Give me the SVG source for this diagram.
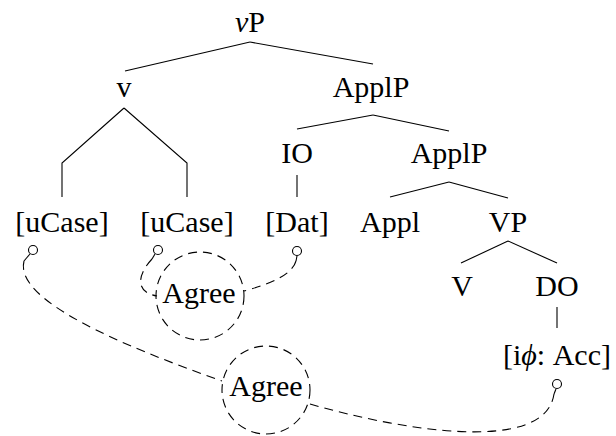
<svg xmlns="http://www.w3.org/2000/svg" width="616" height="436" viewBox="0 0 616 436">
<style>
.t{font-family:"Liberation Serif","Times New Roman",serif;font-size:30px;fill:#000;text-anchor:middle}
.e{stroke:#000;stroke-width:1.1;fill:none}
.d{stroke:#000;stroke-width:1.1;fill:none;stroke-dasharray:9 6}
.c{stroke:#000;stroke-width:1.1;fill:#fff}
</style>
<rect width="616" height="436" fill="#fff"/>
<g id="connectors">
<line class="e" x1="250" y1="42" x2="125" y2="71"/>
<line class="e" x1="250" y1="42" x2="373" y2="64"/>
<polyline class="e" points="124,108 62,163 62,197"/>
<polyline class="e" points="124,108 187,163 187,197"/>
<line class="e" x1="373" y1="115" x2="297" y2="129"/>
<line class="e" x1="373" y1="115" x2="449" y2="131"/>
<line class="e" x1="297" y1="175" x2="297" y2="197"/>
<line class="e" x1="449" y1="182" x2="390" y2="197"/>
<line class="e" x1="449" y1="182" x2="508" y2="198"/>
<line class="e" x1="508" y1="241" x2="461" y2="263"/>
<line class="e" x1="508" y1="241" x2="557" y2="263"/>
<line class="e" x1="557" y1="307" x2="557" y2="328"/>
<path class="d" d="M24,261 C14,300 120,345 222,381"/>
<path class="d" d="M152,259 C138,274 134,292 157,296"/>
<path class="d" d="M296,261 C292,275 270,284 244,291"/>
<path class="d" d="M310,404 C400,430 545,455 554,394"/>
<line class="e" x1="30" y1="254" x2="24" y2="261"/>
<line class="e" x1="155" y1="254" x2="152" y2="259"/>
<line class="e" x1="297" y1="256" x2="296" y2="261"/>
<line class="e" x1="556" y1="389" x2="554" y2="394"/>
<circle class="c" cx="33" cy="250" r="4.5"/>
<circle class="c" cx="158" cy="250" r="4.5"/>
<circle class="c" cx="297" cy="251" r="4.5"/>
<circle class="c" cx="557" cy="384" r="4.5"/>
</g>
<g id="vP"><text class="t" x="250" y="32"><tspan font-style="italic">v</tspan>P</text></g>
<g id="v"><text class="t" x="124" y="97">v</text></g>
<g id="ApplP1"><text class="t" x="371" y="97">ApplP</text></g>
<g id="IO"><text class="t" x="297" y="163">IO</text></g>
<g id="ApplP2"><text class="t" x="449" y="163">ApplP</text></g>
<g id="uCase1"><text class="t" x="62" y="232">[uCase]</text></g>
<g id="uCase2"><text class="t" x="187" y="232">[uCase]</text></g>
<g id="Dat"><text class="t" x="297" y="232">[Dat]</text></g>
<g id="Appl"><text class="t" x="390" y="232">Appl</text></g>
<g id="VP"><text class="t" x="508" y="232">VP</text></g>
<g id="V"><text class="t" x="462" y="296">V</text></g>
<g id="DO"><text class="t" x="557" y="296">DO</text></g>
<g id="Acc"><text class="t" x="557" y="365">[i<tspan font-style="italic" font-family="Liberation Serif, DejaVu Serif, serif">ϕ</tspan>: Acc]</text></g>
<g id="Agree1"><circle class="d" cx="200" cy="296" r="44"/><text class="t" x="199" y="303">Agree</text></g>
<g id="Agree2"><circle class="d" cx="266" cy="390" r="44"/><text class="t" x="266" y="396">Agree</text></g>
</svg>
